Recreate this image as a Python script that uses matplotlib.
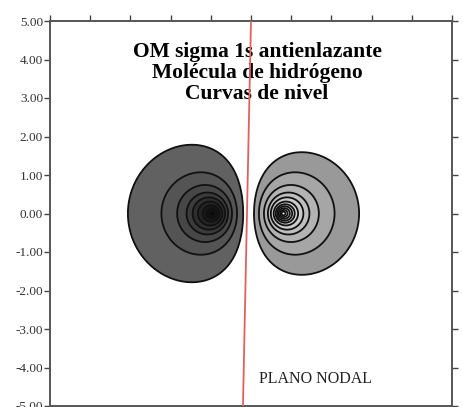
import numpy as np
import matplotlib
matplotlib.use("Agg")
import matplotlib.pyplot as plt
from matplotlib.ticker import FormatStrFormatter

# H2 molecule: the two 1s centres on the x axis (bohr)
nuclei_x = [-0.95, 0.8]
# Contour levels of |psi| for the antibonding sigma*1s orbital, per lobe
neg_levels_abs = [0.1, 0.23, 0.34, 0.43, 0.5, 0.57, 0.64, 0.7, 0.76]
pos_levels_abs = [0.125, 0.23, 0.34, 0.43, 0.5, 0.57, 0.62, 0.66, 0.7, 0.74, 0.78]
# Grey shade of each filled band, outermost band first
neg_greys = [0.38, 0.33, 0.28, 0.23, 0.18, 0.14, 0.10, 0.06, 0.03]
pos_greys = [0.60, 0.65, 0.70, 0.75, 0.80, 0.84, 0.88, 0.92, 0.95, 0.98, 1.00]
# Hand-drawn nodal plane (x at top, x at bottom)
nodal_x = [0.0, -0.2]
nodal_y = [5.0, -5.0]
tick_vals = [-5, -4, -3, -2, -1, 0, 1, 2, 3, 4, 5]
title_lines = ["OM sigma 1s antienlazante", "Molécula de hidrógeno", "Curvas de nivel"]
nodal_label = "PLANO NODAL"

serif = ["Liberation Serif", "DejaVu Serif"]

fig = plt.figure(figsize=(4.64, 4.07), dpi=100)
ax = fig.add_axes([50 / 464, 1 - 406 / 407, 402 / 464, 385 / 407])

x = np.linspace(-5, 5, 801)
y = np.linspace(-5, 5, 801)
X, Y = np.meshgrid(x, y)
rA = np.hypot(X - nuclei_x[0], Y)
rB = np.hypot(X - nuclei_x[1], Y)
psi = np.exp(-rB) - np.exp(-rA)

top = 1.0
neg_levels = [-top] + [-v for v in neg_levels_abs[::-1]]
pos_levels = list(pos_levels_abs) + [top]
ax.contourf(X, Y, psi, levels=neg_levels,
            colors=[str(g) for g in neg_greys[::-1]])
ax.contourf(X, Y, psi, levels=pos_levels,
            colors=[str(g) for g in pos_greys])
line_levels = [-v for v in neg_levels_abs[::-1]] + list(pos_levels_abs)
ax.contour(X, Y, psi, levels=line_levels, colors="#111111",
           linewidths=1.3, linestyles="solid")

ax.plot(nodal_x, nodal_y, color="#e06060", lw=1.3, zorder=5)

ax.set_xlim(-5, 5)
ax.set_ylim(-5, 5)
ax.set_xticks(tick_vals)
ax.set_yticks(tick_vals)
ax.yaxis.set_major_formatter(FormatStrFormatter("%.2f"))
ax.tick_params(axis="x", bottom=False, labelbottom=False, top=True,
               labeltop=False, direction="out", length=4, width=1,
               color="#444444")
ax.tick_params(axis="y", left=True, right=True, direction="out", length=4,
               width=1, color="#444444", labelsize=9.5, labelcolor="#333333",
               pad=1)
for lab in ax.get_yticklabels():
    lab.set_family(serif)
for sp in ax.spines.values():
    sp.set_color("#555555")
    sp.set_linewidth(1.4)

ax.text(0.15, 4.45, "\n".join(title_lines), ha="center", va="top",
        family=serif, fontweight="bold", fontsize=15.5, linespacing=1.05)
ax.text(0.2, -4.3, nodal_label, ha="left", va="center", family=serif,
        fontsize=11.5, color="#222222")

fig.savefig("out.png", dpi=100)
